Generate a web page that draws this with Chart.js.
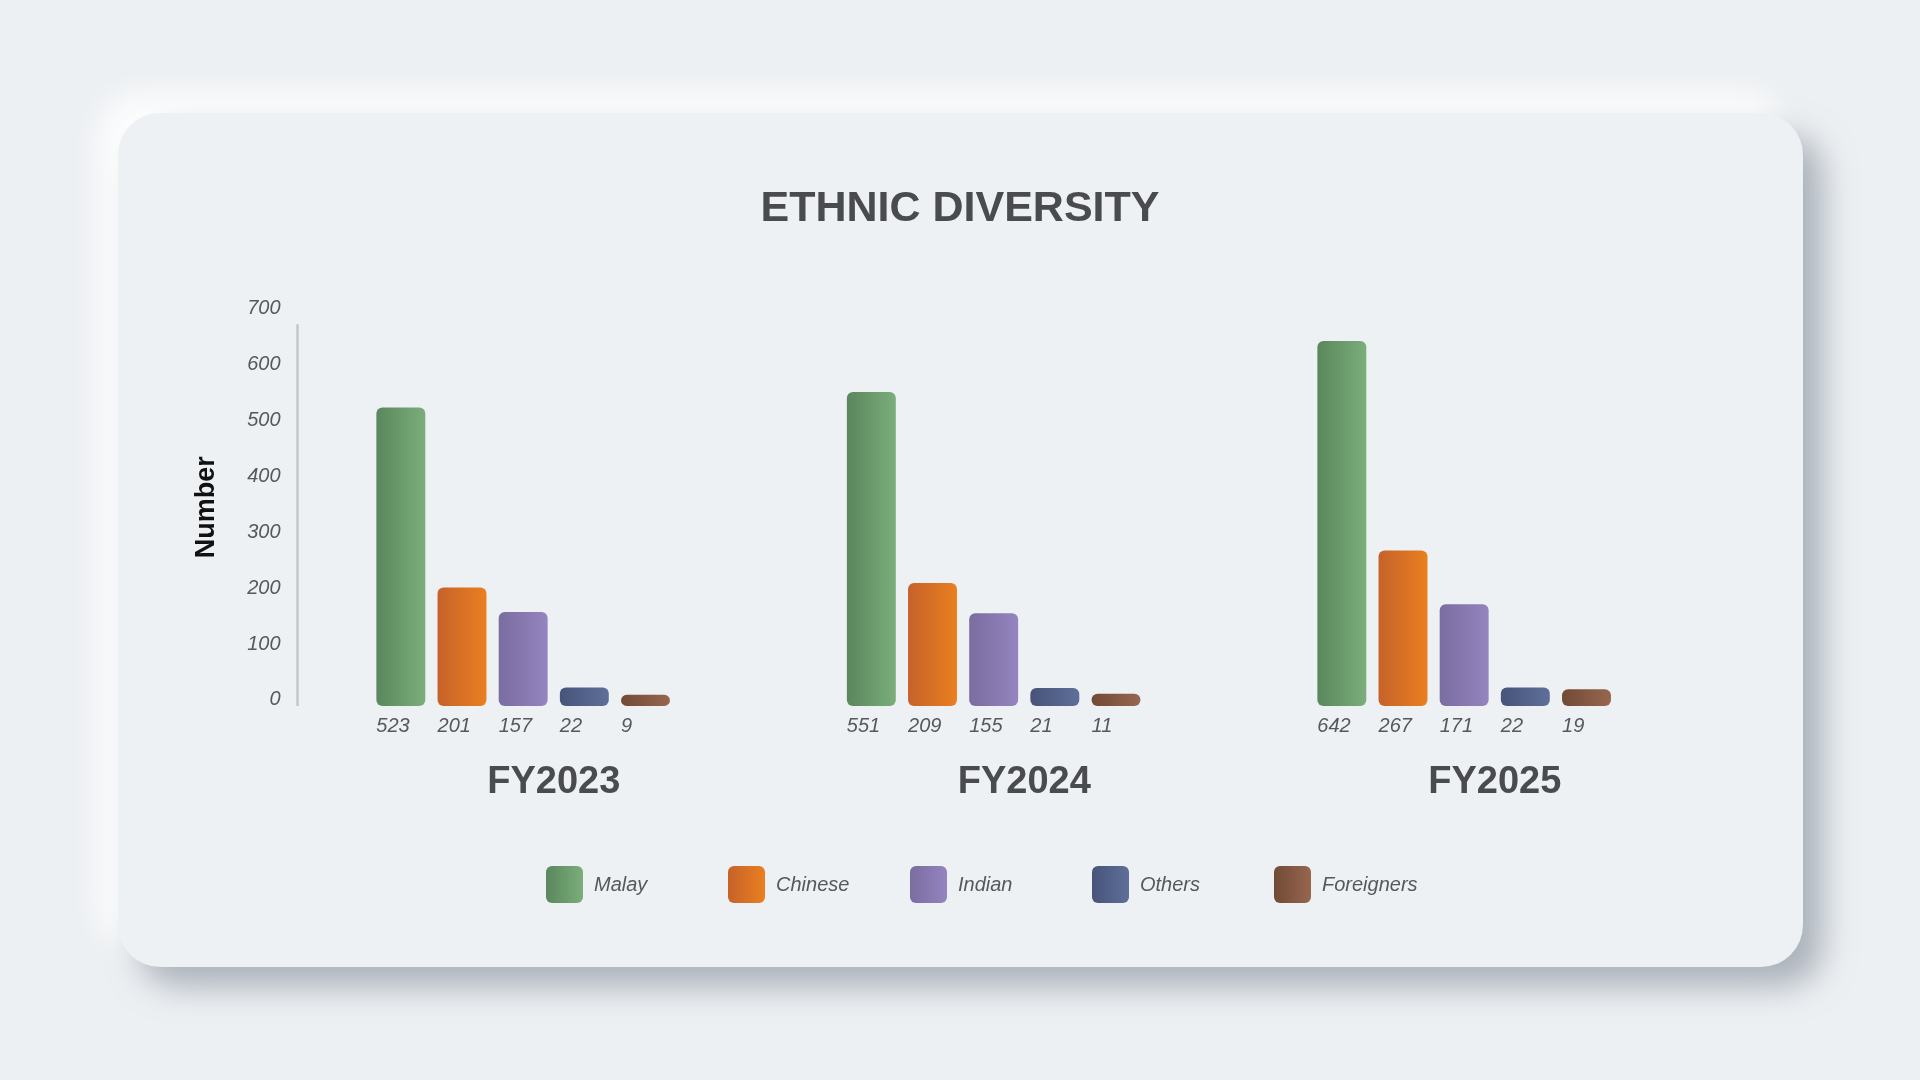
<!DOCTYPE html>
<html>
<head>
<meta charset="utf-8">
<title>Ethnic Diversity</title>
<script src="https://cdn.jsdelivr.net/npm/chart.js@4.4.1/dist/chart.umd.min.js"></script>
<style>
  html, body { margin: 0; padding: 0; }
  body {
    width: 1920px; height: 1080px; overflow: hidden;
    background: #edf0f3; position: relative;
    font-family: "Liberation Sans", Arial, sans-serif;
  }
  .card {
    position: absolute; left: 118px; top: 113px; width: 1685px; height: 854px;
    border-radius: 42px; background: #edf1f4;
    box-shadow: 20px 20px 32px rgba(150,158,168,0.75), -18px -18px 30px rgba(255,255,255,0.95);
  }
  #wrap { position: absolute; left: 0; top: 0; width: 1920px; height: 1080px; }
  .legend {
    position: absolute; left: 546px; top: 866px; display: flex;
  }
  .legend .item { width: 182px; display: flex; align-items: center; }
  .legend .box { width: 37px; height: 37px; border-radius: 6px; margin-right: 11px; }
  .legend .txt { font-style: italic; font-size: 20px; color: #55585c; }
</style>
</head>
<body>
<div class="card"></div>
<div id="wrap"><canvas id="chart" width="1920" height="1080"></canvas></div>
<div class="legend" id="legend"></div>
<script>
// data
const years = ['FY2023', 'FY2024', 'FY2025'];
const groups = ['Malay', 'Chinese', 'Indian', 'Others', 'Foreigners'];
const malay = [523, 551, 642];
const chinese = [201, 209, 267];
const indian = [157, 155, 171];
const others = [22, 21, 22];
const foreigners = [9, 11, 19];
const yTicks = [0, 100, 200, 300, 400, 500, 600, 700];

// left (dark) / right (light) shade of each bar
const shades = [
    ['#5a875d', '#7bae7b'],
    ['#c6622a', '#ea7f20'],
    ['#7a6d9f', '#9484c0'],
    ['#47547a', '#5e6f99'],
    ['#714a36', '#97664f']
];

const Y_MIN = -11; // bars sit a little below the zero line

const seriesData = [malay, chinese, indian, others, foreigners];

const datasets = groups.map((name, i) => ({
    label: name,
    data: seriesData[i],
    backgroundColor: () => shades[i][1],
    base: Y_MIN,
    borderRadius: 6,
    borderSkipped: false,
    barPercentage: 0.8,
    categoryPercentage: 0.78
}));
// empty sixth slot, the original chart leaves it blank
datasets.push({ label: '', data: [null, null, null], barPercentage: 0.8, categoryPercentage: 0.78 });

// build the html legend
const legendEl = document.getElementById('legend');
groups.forEach((name, i) => {
    const item = document.createElement('div');
    item.className = 'item';
    item.innerHTML = '<span class="box" style="background:linear-gradient(to right,' + shades[i][0] + ',' + shades[i][1] + ')"></span><span class="txt">' + name + '</span>';
    legendEl.appendChild(item);
});

// horizontal gradient on every bar
const barGradient = {
    id: 'barGradient',
    beforeDatasetsDraw(chart) {
        const ctx = chart.ctx;
        chart.data.datasets.forEach((ds, di) => {
            if (!shades[di]) return;
            chart.getDatasetMeta(di).data.forEach(bar => {
                const g = ctx.createLinearGradient(bar.x - bar.width / 2, 0, bar.x + bar.width / 2, 0);
                g.addColorStop(0, shades[di][0]);
                g.addColorStop(1, shades[di][1]);
                bar.options.backgroundColor = g;
            });
        });
    }
};

// value text under each bar + the thin y axis line
const valueLabels = {
    id: 'valueLabels',
    afterDatasetsDraw(chart) {
        const ctx = chart.ctx;
        const y = chart.scales.y;
        ctx.save();
        ctx.strokeStyle = '#c3c7cc';
        ctx.lineWidth = 2.5;
        ctx.beginPath();
        ctx.moveTo(chart.chartArea.left - 21, y.getPixelForValue(672));
        ctx.lineTo(chart.chartArea.left - 21, y.getPixelForValue(Y_MIN));
        ctx.stroke();

        ctx.font = 'italic 20px "Liberation Sans", Arial, sans-serif';
        ctx.fillStyle = '#55585c';
        ctx.textAlign = 'left';
        ctx.textBaseline = 'middle';
        chart.data.datasets.forEach((ds, di) => {
            if (!shades[di]) return;
            chart.getDatasetMeta(di).data.forEach((bar, i) => {
                ctx.fillText(String(ds.data[i]), bar.x - bar.width / 2, bar.base + 20);
            });
        });
        ctx.restore();
    }
};

new Chart(document.getElementById('chart'), {
    type: 'bar',
    data: { labels: years, datasets: datasets },
    plugins: [barGradient, valueLabels],
    options: {
        responsive: false,
        animation: false,
        layout: { padding: { top: 183, left: 190, right: 190, bottom: 280 } },
        plugins: {
            legend: { display: false },
            tooltip: { enabled: false },
            title: {
                display: true,
                text: 'ETHNIC DIVERSITY',
                color: '#4a4b4e',
                font: { family: '"Liberation Sans", Arial, sans-serif', size: 43, weight: 'bold' },
                padding: { top: 0, bottom: 74 }
            }
        },
        scales: {
            x: {
                afterFit: s => { s.height = 94; },
                grid: { display: false },
                border: { display: false },
                ticks: {
                    color: '#4a4b4e',
                    padding: 46,
                    font: { family: '"Liberation Sans", Arial, sans-serif', size: 38, weight: 'bold' }
                }
            },
            y: {
                min: Y_MIN,
                max: 700,
                afterBuildTicks: axis => { axis.ticks = yTicks.map(v => ({ value: v })); },
                afterFit: s => { s.width = 128.5; },
                grid: { display: false },
                border: { display: false },
                ticks: {
                    color: '#55585c',
                    padding: 30,
                    font: { family: '"Liberation Sans", Arial, sans-serif', size: 20, style: 'italic' }
                },
                title: {
                    display: true,
                    text: 'Number',
                    color: '#111',
                    padding: { top: 0, bottom: 0 },
                    font: { family: '"Liberation Sans", Arial, sans-serif', size: 27, weight: 'bold' }
                }
            }
        }
    }
});
</script>
</body>
</html>
